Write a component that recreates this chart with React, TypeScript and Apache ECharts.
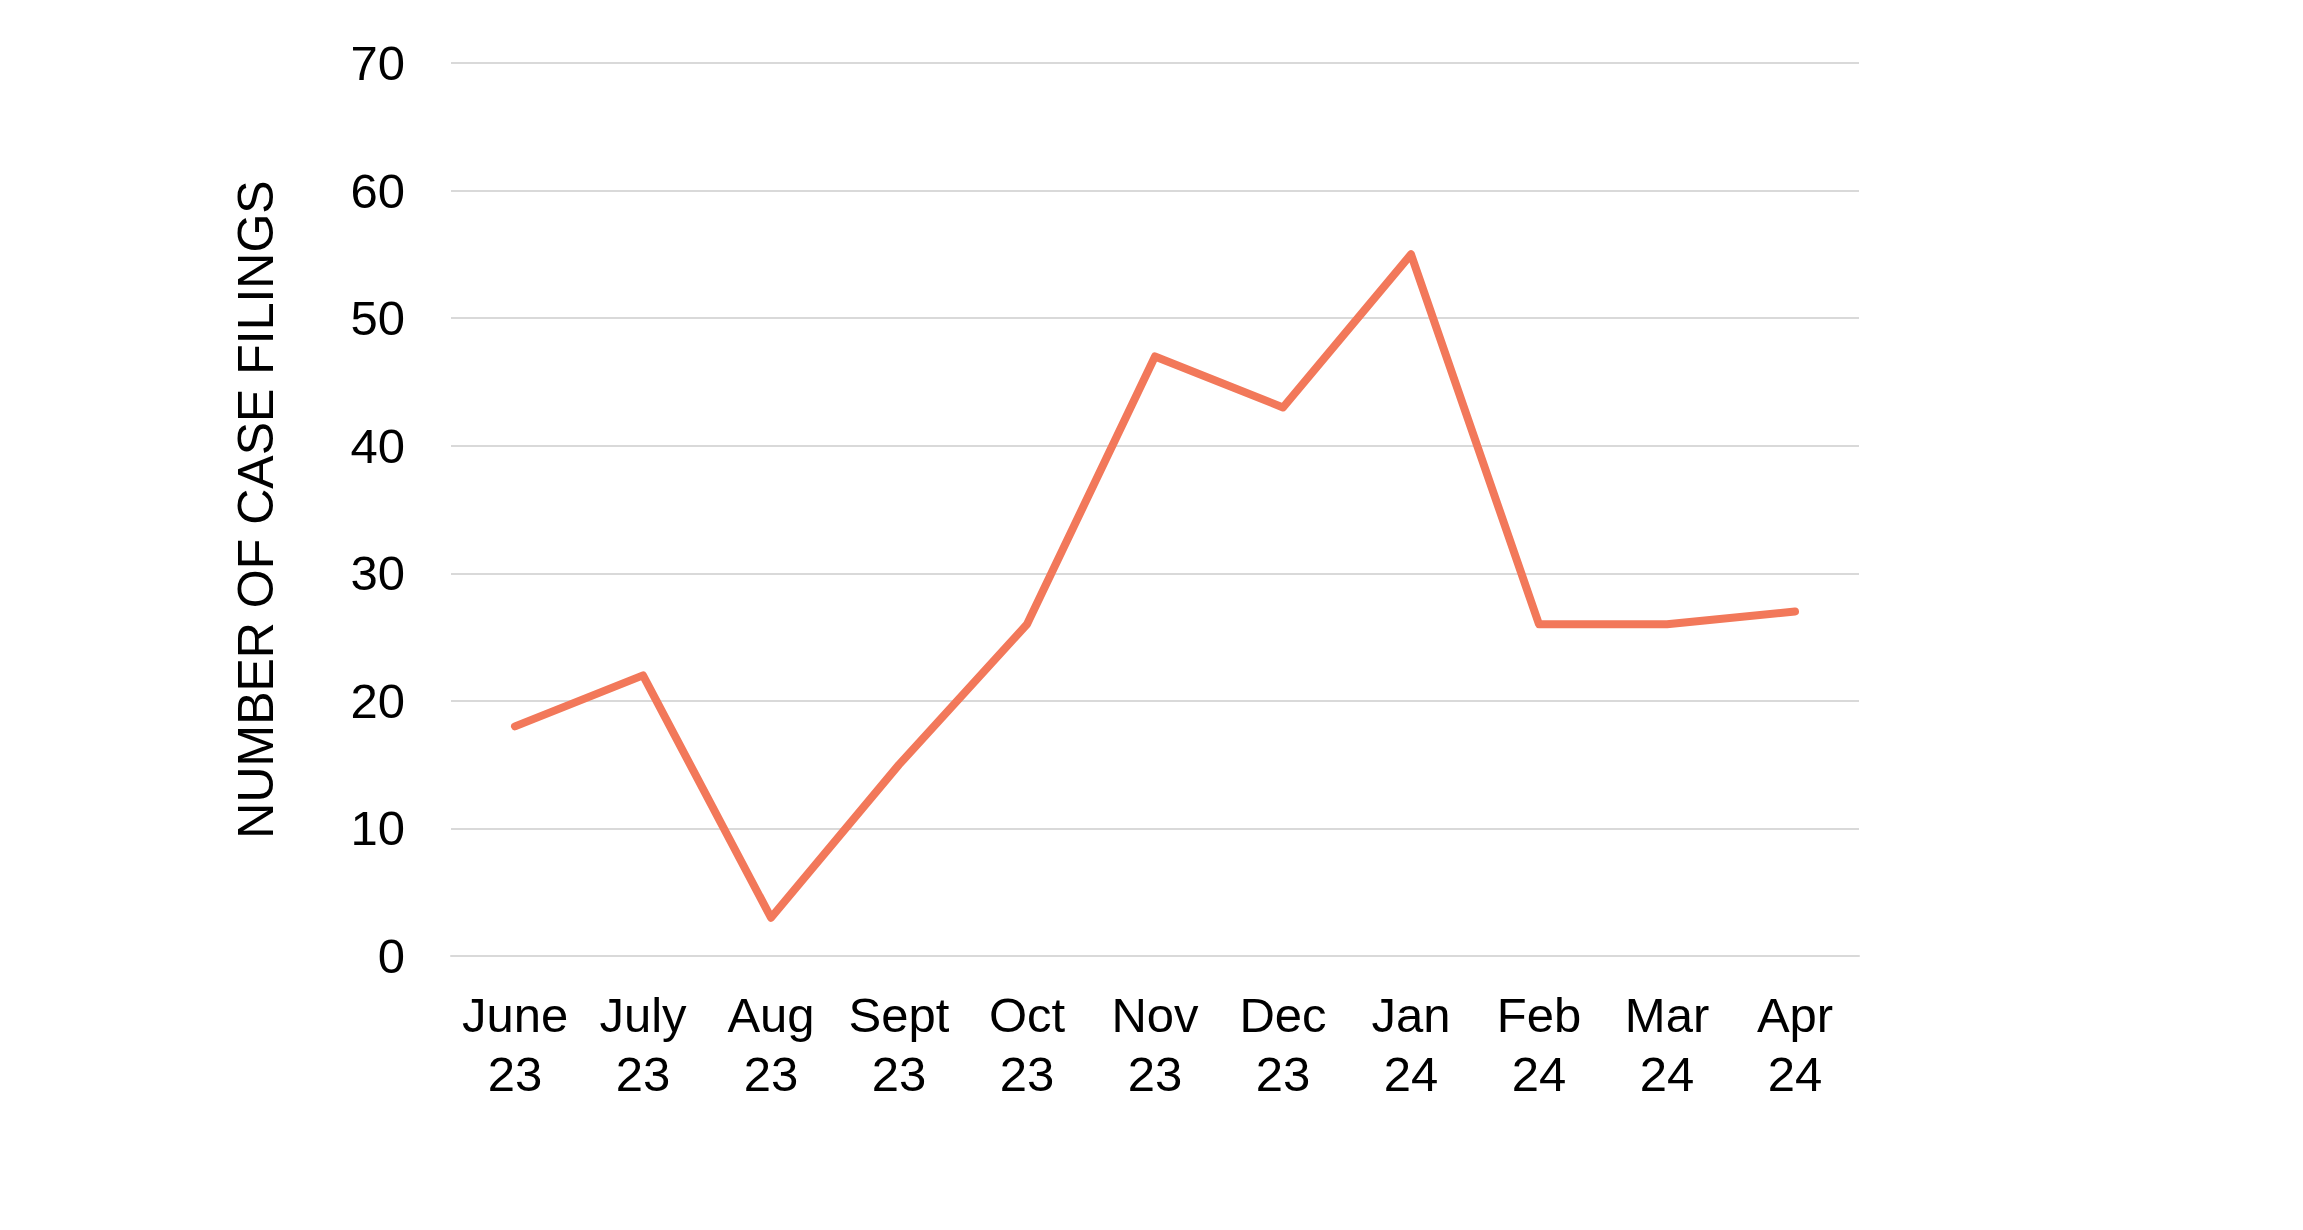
import React, { useEffect, useRef } from "react";
import * as echarts from "echarts";

const categories = ["June\n23", "July\n23", "Aug\n23", "Sept\n23", "Oct\n23", "Nov\n23", "Dec\n23", "Jan\n24", "Feb\n24", "Mar\n24", "Apr\n24"];
const filings = [18, 22, 3, 15, 26, 47, 43, 55, 26, 26, 27];
const yAxisName = "NUMBER OF CASE FILINGS";
const yMin = 0;
const yMax = 70;
const yInterval = 10;

export default function App() {
  const ref = useRef<HTMLDivElement>(null);
  useEffect(() => {
    if (!ref.current) return;
    const chart = echarts.init(ref.current, undefined, { renderer: "svg" });
    const font = "'Liberation Sans', Arial, sans-serif";
    chart.setOption({
      animation: false,
      backgroundColor: "#ffffff",
      grid: { left: 451, right: 444, top: 63, bottom: 274, containLabel: false },
      xAxis: {
        type: "category",
        data: categories,
        boundaryGap: true,
        axisLine: { show: true, lineStyle: { color: "#d9d9d9", width: 2 } },
        axisTick: { show: false },
        axisLabel: {
          color: "#000000",
          fontFamily: font,
          fontSize: 49,
          lineHeight: 59,
          margin: 29,
          interval: 0,
        },
      },
      yAxis: {
        type: "value",
        min: yMin,
        max: yMax,
        interval: yInterval,
        name: yAxisName,
        nameLocation: "middle",
        nameGap: 170,
        nameRotate: 90,
        nameTextStyle: { color: "#000000", fontFamily: font, fontSize: 50 },
        axisLine: { show: false },
        axisTick: { show: false },
        axisLabel: { color: "#000000", fontFamily: font, fontSize: 49, margin: 46 },
        splitLine: { show: true, lineStyle: { color: "#d9d9d9", width: 2 } },
      },
      series: [
        {
          type: "line",
          data: filings,
          showSymbol: false,
          symbol: "none",
          lineStyle: { color: "#F2785A", width: 8, cap: "round", join: "round" },
        },
      ],
    });
    return () => chart.dispose();
  }, []);
  return <div ref={ref} style={{ position: "fixed", left: 0, top: 0, width: 2303, height: 1230 }} />;
}
